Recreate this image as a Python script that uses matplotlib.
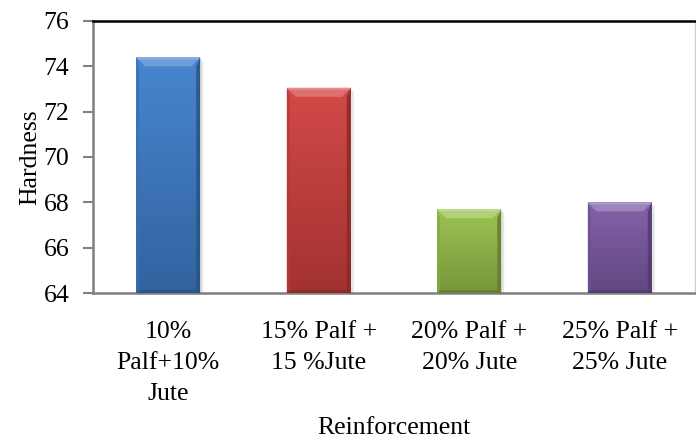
import numpy as np
import matplotlib
matplotlib.use("Agg")
import matplotlib.pyplot as plt
from matplotlib.patches import Polygon
from matplotlib.colors import to_rgb

categories = ["10%\nPalf+10%\nJute", "15% Palf +\n15 %Jute", "20% Palf +\n20% Jute", "25% Palf +\n25% Jute"]
hardness = [74.4, 73.05, 67.7, 68.0]
bar_colors = ["#3F7FCC", "#D0403E", "#98C04A", "#7E5AA6"]
y_ticks = [64, 66, 68, 70, 72, 74, 76]

plt.rcParams["font.family"] = ["Liberation Serif", "DejaVu Serif"]
FS = 18.5

W, H, DPI = 6.96, 4.43, 100
fig = plt.figure(figsize=(W, H), dpi=DPI)
ax = fig.add_axes([0.1336, 0.3386, 0.865, 0.614])

ymin, ymax = 64, 76
x = np.arange(len(categories))
bars = ax.bar(x, [v - ymin for v in hardness], bottom=ymin, width=0.425,
              color=bar_colors, edgecolor="none", zorder=2)
ax.set_xlim(-0.5, len(categories) - 0.5)
ax.set_ylim(ymin, ymax)

# pixel-to-data scale for bevel shading
ax_w_px = W * DPI * 0.865
ax_h_px = H * DPI * 0.614
dx = (len(categories)) / ax_w_px
dy = (ymax - ymin) / ax_h_px


def mix(c, t, amt):
    c = np.array(to_rgb(c)); t = np.array(to_rgb(t))
    return tuple(c + (t - c) * amt)


for bar, col in zip(bars, bar_colors):
    x0, y0 = bar.get_x(), bar.get_y()
    w, h = bar.get_width(), bar.get_height()
    x1, y1 = x0 + w, y0 + h
    # vertical gradient: lighter at top, darker at bottom
    top_c = np.array(mix(col, "white", 0.05))
    bot_c = np.array(mix(col, "black", 0.22))
    t = np.linspace(0, 1, 256)[:, None]
    grad = bot_c[None, :] * (1 - t) + top_c[None, :] * t
    img = ax.imshow(grad[:, None, :], extent=[x0, x1, y0, y1], origin="lower",
                    aspect="auto", zorder=3, interpolation="bilinear")
    img.set_clip_path(bar)
    bev = 9 * dy
    side = 4 * dx
    # top bevel
    ax.add_patch(Polygon([(x0, y1), (x1, y1), (x1 - side * 2.2, y1 - bev), (x0 + side * 2.2, y1 - bev)],
                         closed=True, facecolor=mix(col, "white", 0.25), edgecolor="none", zorder=4))
    ax.add_patch(Polygon([(x0, y1), (x1, y1), (x1 - 1.5 * dx, y1 - 2 * dy), (x0 + 1.5 * dx, y1 - 2 * dy)],
                         closed=True, facecolor=mix(col, "white", 0.4), edgecolor="none", zorder=4))
    # side bevels
    ax.add_patch(Polygon([(x0, y0), (x0, y1), (x0 + side * 0.7, y1 - bev), (x0 + side * 0.7, y0)],
                         closed=True, facecolor=mix(col, "black", 0.12), edgecolor="none", zorder=4, alpha=0.8))
    ax.add_patch(Polygon([(x1, y0), (x1, y1), (x1 - side, y1 - bev), (x1 - side, y0)],
                         closed=True, facecolor=mix(col, "black", 0.35), edgecolor="none", zorder=4, alpha=0.85))
    # bottom edge
    ax.add_patch(Polygon([(x0, y0), (x1, y0), (x1 - side, y0 + 3 * dy), (x0 + side * 0.7, y0 + 3 * dy)],
                         closed=True, facecolor=mix(col, "black", 0.35), edgecolor="none", zorder=4, alpha=0.7))
    # soft shadow on the right side
    ax.add_patch(Polygon([(x1, y0), (x1, y1 - 2 * dy), (x1 + 3 * dx, y1 - 4 * dy), (x1 + 3 * dx, y0)],
                         closed=True, facecolor="#d4d4d4", edgecolor="none", zorder=1, alpha=0.6))

ax.set_yticks(y_ticks)
ax.set_yticklabels([str(v) for v in y_ticks])
ax.set_xticks(x)
ax.set_xticklabels(categories, linespacing=1.55)
ax.tick_params(axis="x", length=0, pad=20, labelsize=FS)
ax.tick_params(axis="y", length=7, width=1.5, color="#808080", labelsize=FS, pad=10)

for s in ["left", "bottom"]:
    ax.spines[s].set_color("#7f7f7f")
    ax.spines[s].set_linewidth(1.8)
ax.spines["right"].set_color("#d0d0d0")
ax.spines["right"].set_linewidth(1.0)
ax.spines["top"].set_color("black")
ax.spines["top"].set_linewidth(1.8)

ax.set_ylabel("Hardness", fontsize=FS, labelpad=2)
ax.set_xlabel("Reinforcement", fontsize=FS, labelpad=8)

fig.savefig("out.png", dpi=DPI)
